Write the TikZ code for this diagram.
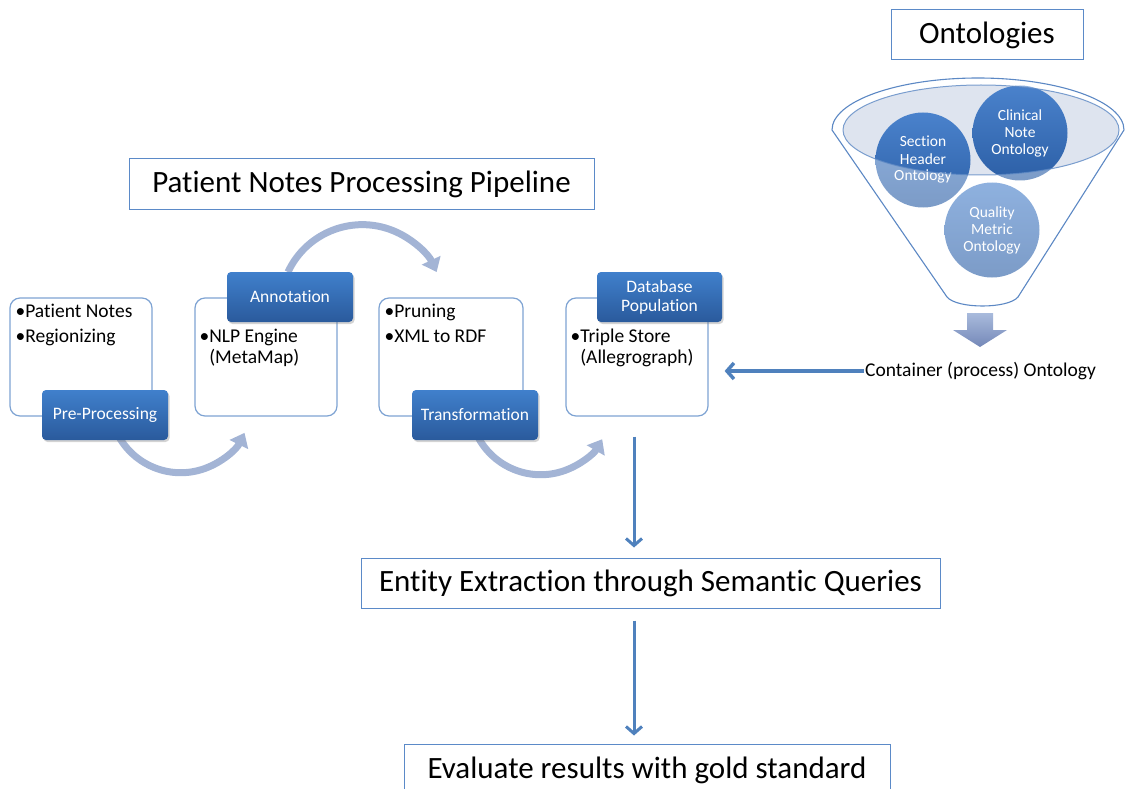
\documentclass[tikz,border=0pt]{standalone}
\usepackage{fontspec}
\setmainfont{Carlito}[Ligatures=NoCommon]
\usetikzlibrary{arrows.meta,shadows,calc}
\definecolor{titleline}{HTML}{5B8AC8}
\definecolor{boxline}{HTML}{7EA3D3}
\definecolor{cyc}{HTML}{A3B4D5}
\definecolor{conn}{HTML}{4F81BD}
\definecolor{lblTop}{HTML}{4080CC}
\definecolor{lblBot}{HTML}{2A5A9C}
\definecolor{circTop}{HTML}{4A82CC}
\definecolor{circBot}{HTML}{2C5FA6}
\definecolor{ellfill}{HTML}{DEE4EF}
\definecolor{funline}{HTML}{5C88C4}
\definecolor{dArrTop}{HTML}{A9BBDC}
\definecolor{dArrBot}{HTML}{7488B8}
\begin{document}
\begin{tikzpicture}[x=1pt,y=1pt,
  frame/.style={draw=titleline, line width=1pt, fill=white, minimum height=50pt, inner sep=0pt, font=\fontsize{31}{36}\selectfont},
  stagebox/.style={draw=boxline, line width=1.2pt, rounded corners=10pt, fill=white, minimum width=142pt, minimum height=118pt, inner sep=0pt},
  labelbox/.style={rounded corners=4pt, top color=lblTop, bottom color=lblBot, text=white, font=\fontsize{17.5}{19}\selectfont, minimum width=126pt, minimum height=50pt, inner sep=0pt, align=center, drop shadow={opacity=0.35,shadow xshift=1.5pt,shadow yshift=-2pt}},
  bullets/.style={anchor=base west, inner sep=0pt, align=left, text=black},
  cycarrow/.style={draw=cyc, line width=7pt, -{Triangle[length=13pt,width=20pt]}},
  vconn/.style={draw=conn, line width=3pt, -{Straight Barb[length=7pt,width=16pt]}},
  hconn/.style={draw=conn, line width=3.5pt, -{Straight Barb[length=7pt,width=16pt]}},
  ont/.style={circle, minimum size=95pt, inner sep=0pt, top color=circTop, bottom color=circBot, text=white, align=center, font=\fontsize{15.5}{17}\selectfont}
]
\useasboundingbox (0,0) rectangle (1125,-789);

% ---------------- titles
\node[frame, minimum width=465pt] (title) at (361.5,-184) {Patient Notes Processing Pipeline};
\node[frame, minimum width=192pt] (onttitle) at (987,-35) {Ontologies};

% ---------------- cycle arrows (behind the boxes)
\draw[cycarrow] (114,-426) arc[start angle=200, end angle=334, radius=71pt];
\draw[cycarrow] (288,-272) arc[start angle=155, end angle=25, radius=82pt];
\draw[cycarrow] (474,-428) arc[start angle=200, end angle=330, radius=71pt];

% ---------------- stage boxes
\node[stagebox] (b1) at (81,-357) {};
\node[stagebox] (b2) at (266,-357) {};
\node[stagebox, minimum width=144pt] (b3) at (451,-357) {};
\node[stagebox] (b4) at (637,-357) {};

\node[bullets, font=\fontsize{19.5}{25}\selectfont] (t1) at ([xshift=6pt,yshift=-45pt]b1.north west) {•Patient Notes\\•Regionizing};
\node[bullets, font=\fontsize{19.5}{21}\selectfont] (t2) at ([xshift=5pt,yshift=-66pt]b2.north west) {•NLP Engine\\\phantom{•}(MetaMap)};
\node[bullets, font=\fontsize{19.5}{25}\selectfont] (t3) at ([xshift=6pt,yshift=-45pt]b3.north west) {•Pruning\\•XML to RDF};
\node[bullets, font=\fontsize{19.5}{21}\selectfont] (t4) at ([xshift=5pt,yshift=-66pt]b4.north west) {•Triple Store\\\phantom{•}(Allegrograph)};

% ---------------- stage labels
\node[labelbox] (l1) at (105,-415) {Pre-Processing};
\node[labelbox] (l2) at (290,-297) {Annotation};
\node[labelbox] (l3) at (475,-415) {Transformation};
\node[labelbox, minimum width=125pt] (l4) at (659.5,-297) {Database\\Population};

% ---------------- funnel
\fill[ellfill] (981,-130) ellipse[x radius=138pt, y radius=45pt];
\node[ont] (sh) at (923,-160) {Section\\Header\\Ontology};
\node[ont] (cn) at (1020,-133) {Clinical\\Note\\Ontology};
\node[ont] (qm) at (992,-230) {Quality\\Metric\\Ontology};
\fill[white, fill opacity=0.38, even odd rule]
  (832,-130) arc[start angle=180, end angle=0, x radius=146pt, y radius=52pt]
  -- (1018,-297) .. controls (1008,-309) and (957,-309) .. (947,-297) -- cycle
  (981,-130) ellipse[x radius=138pt, y radius=45pt];
\draw[funline, line width=1.1pt, line join=round]
  (832,-130) arc[start angle=180, end angle=0, x radius=146pt, y radius=52pt]
  -- (1018,-297) .. controls (1008,-309) and (957,-309) .. (947,-297) -- cycle;
\draw[funline, line width=1pt, draw opacity=0.8] (981,-130) ellipse[x radius=138pt, y radius=45pt];

% down block arrow under funnel
\shade[top color=dArrTop, bottom color=dArrBot]
  (967,-313) -- (993,-313) -- (993,-330) -- (1007,-330) -- (980,-347) -- (953,-330) -- (967,-330) -- cycle;

% ---------------- container ontology
\node[font=\fontsize{19.5}{22}\selectfont, inner sep=1pt, anchor=west] (cont) at (864,-371) {Container (process) Ontology};
\draw[hconn, shorten >=16pt] (cont.west) -- (cont.west -| b4.east);

% ---------------- lower flow
\node[frame, minimum width=579pt] (ent) at (650.5,-583) {Entity Extraction through Semantic Queries};
\node[frame, minimum width=486pt, minimum height=52pt] (eval) at (647,-770) {Evaluate results with gold standard};

\draw[vconn, shorten <=20pt, shorten >=10pt] ([xshift=-3pt]b4.south) -- ([xshift=-3pt]b4.south |- ent.north);
\draw[vconn, shorten <=12pt, shorten >=8pt] ([xshift=-16.5pt]ent.south) -- ([xshift=-16.5pt]ent.south |- eval.north);
\end{tikzpicture}
\end{document}
